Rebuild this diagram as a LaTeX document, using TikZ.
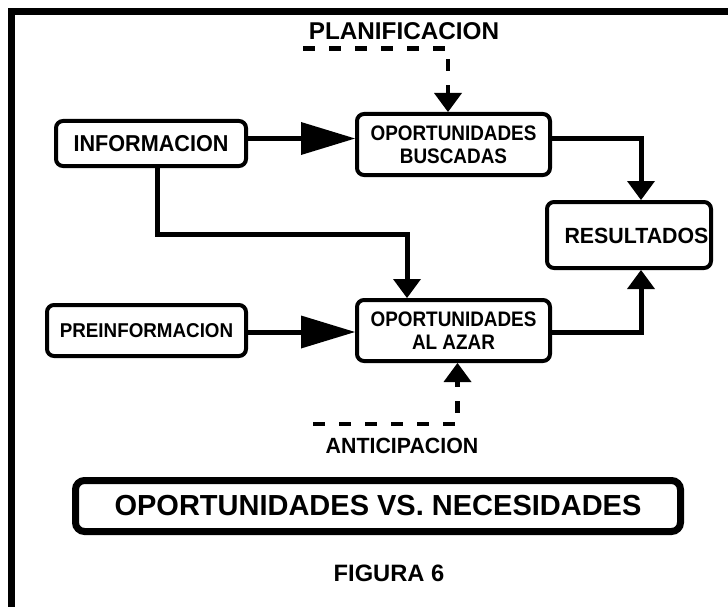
\documentclass[tikz,border=0pt]{standalone}
\usepackage{fontspec}
\setmainfont{Liberation Sans}
\newfontfamily\narrowA{Liberation Sans}[FakeStretch=0.9]
\newfontfamily\narrowB{Liberation Sans}[FakeStretch=0.94]
\newfontfamily\narrowC{Liberation Sans}[FakeStretch=0.97]
\usetikzlibrary{arrows.meta}
\begin{document}
\begin{tikzpicture}[x=1pt,y=-1pt,
  box/.style={draw, line width=4pt, rounded corners=7pt, align=center, inner sep=0pt},
  conn/.style={line width=5pt},
  bigtip/.style={-{Triangle[length=54pt,width=33pt,line width=0pt]}},
  smalltip/.style={-{Triangle[length=19pt,width=28pt,line width=0pt]}},
  dashline/.style={line width=4.5pt, dash pattern=on 12pt off 14pt},
  lbl/.style={inner sep=0pt, align=center}]
\useasboundingbox (0,0) rectangle (728,607);
% frame
\draw[line width=7pt] (728,11.5) -- (11.5,11.5) -- (11.5,607);
% boxes
\node[box, minimum width=190pt, minimum height=45pt, font=\narrowB\bfseries\fontsize{23}{26}\selectfont] (info) at (151,143.5) {INFORMACION};
\node[box, minimum width=193pt, minimum height=61pt, font=\narrowA\bfseries\fontsize{21}{23}\selectfont] (ob) at (453.5,144.5) {OPORTUNIDADES\\BUSCADAS};
\node[box, minimum width=164pt, minimum height=66pt] (res) at (629,235) {};
\node[lbl, font=\narrowC\bfseries\fontsize{22}{26}\selectfont] (reslbl) at (636.5,235.5) {RESULTADOS};
\node[box, minimum width=199pt, minimum height=51pt, font=\narrowB\bfseries\fontsize{20}{24}\selectfont] (pre) at (146.5,330.5) {PREINFORMACION};
\node[box, minimum width=193pt, minimum height=61pt, font=\narrowA\bfseries\fontsize{21}{23}\selectfont] (aa) at (453.5,330.5) {OPORTUNIDADES\\AL AZAR};
\node[box, line width=7pt, rounded corners=9pt, minimum width=605pt, minimum height=51pt, font=\bfseries\fontsize{29}{34}\selectfont] (title) at (378,506) {OPORTUNIDADES VS. NECESIDADES};
% labels
\node[lbl, font=\bfseries\fontsize{24.3}{28}\selectfont] (plan) at (404,31.5) {PLANIFICACION};
\node[lbl, font=\narrowC\bfseries\fontsize{22}{26}\selectfont] (anti) at (402,445.5) {ANTICIPACION};
\node[lbl, font=\bfseries\fontsize{23.7}{28}\selectfont] (fig) at (389,573.5) {FIGURA 6};
% connectors
\draw[conn,bigtip] ([yshift=5pt]info.east) -- ([yshift=5pt]info.east -| ob.west);
\draw[conn,bigtip] ([yshift=-1.5pt]pre.east) -- ([yshift=-1.5pt]pre.east -| aa.west);
\draw[conn,smalltip] ([xshift=6.5pt]info.south) -- ++(0,66) -| ([xshift=-46.5pt]aa.north);
\draw[conn,smalltip] ([yshift=6pt]ob.east) -| ([xshift=12pt]res.north);
\draw[conn,smalltip] ([yshift=-1.5pt]aa.east) -| ([xshift=12pt]res.south);
\coordinate (ps) at (303,48.5);
\draw[dashline,smalltip] (ps) -| ([xshift=-5.5pt]ob.north);
\coordinate (as) at (313,424);
\draw[dashline,smalltip] (as) -| ([xshift=4pt]aa.south);
\end{tikzpicture}
\end{document}
